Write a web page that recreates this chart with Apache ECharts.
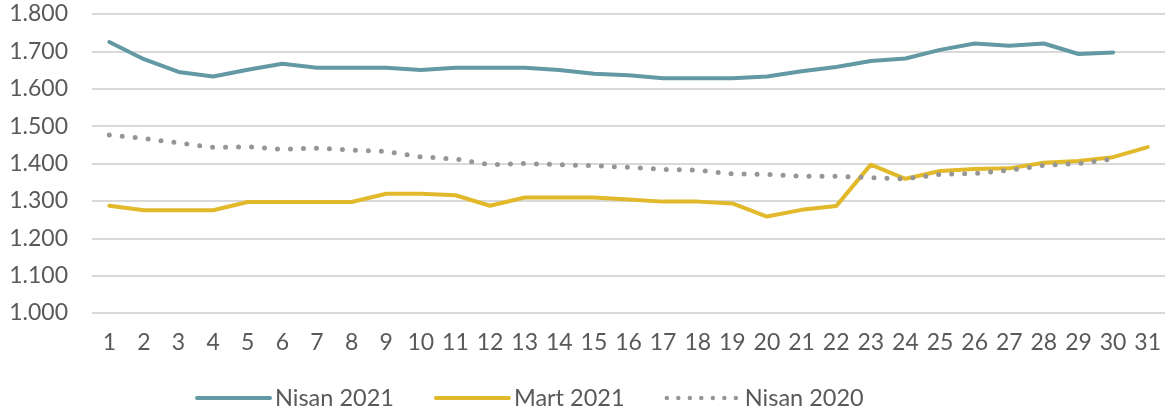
<!DOCTYPE html>
<html>
<head>
<meta charset="utf-8">
<script src="https://cdn.jsdelivr.net/npm/echarts@6/dist/echarts.min.js"></script>
<style>
    html, body { margin: 0; padding: 0; background: #fff; }
    #chart { width: 1175px; height: 414px; }
</style>
</head>
<body>
<div id="chart"></div>
<script>
const days = ['1','2','3','4','5','6','7','8','9','10','11','12','13','14','15','16','17','18','19','20','21','22','23','24','25','26','27','28','29','30','31'];
const nisan2021 = [1725, 1679, 1645, 1633, 1651, 1667, 1656, 1656, 1656, 1650, 1656, 1656, 1656, 1650, 1640,
    1636, 1628, 1628, 1628, 1633, 1647, 1658, 1674, 1681, 1704, 1721, 1715, 1721, 1693, 1697];
const mart2021 = [1287, 1275, 1275, 1275, 1297, 1297, 1297, 1297, 1319, 1319, 1315, 1287, 1309, 1309, 1309,
    1304, 1298, 1298, 1293, 1258, 1276, 1286, 1397, 1359, 1380, 1385, 1387, 1402, 1407, 1417, 1444];
const nisan2020 = [1476, 1467, 1455, 1443, 1445, 1438, 1441, 1436, 1432, 1418, 1412, 1397, 1400, 1397, 1394,
    1390, 1384, 1382, 1372, 1371, 1366, 1366, 1362, 1359, 1371, 1373, 1382, 1395, 1400, 1412];

const textColor = '#595959';
const font = 'Lato, "Noto Sans", sans-serif';

const myChart = echarts.init(document.getElementById('chart'));
myChart.setOption({
    animation: false,
    grid: { left: 92, right: 10, top: 14, bottom: 101 },
    xAxis: {
        type: 'category',
        data: days,
        boundaryGap: true,
        axisLine: { show: false },
        axisTick: { show: false },
        axisLabel: { color: textColor, fontSize: 23, fontFamily: font, margin: 18, interval: 0 }
    },
    yAxis: {
        type: 'value',
        min: 1000,
        max: 1800,
        interval: 100,
        axisLabel: {
            color: textColor, fontSize: 23, fontFamily: font, margin: 24,
            formatter: function (v) { return (v / 1000).toFixed(3); }
        },
        splitLine: { lineStyle: { color: '#d9d9d9', width: 2 } }
    },
    legend: {
        left: 190,
        top: 381,
        itemWidth: 73,
        itemHeight: 12,
        itemGap: 40,
        itemStyle: { opacity: 0 },
        lineStyle: { width: 4 },
        textStyle: { color: textColor, fontSize: 23.5, fontFamily: font },
        data: [
            { name: 'Nisan 2021' },
            { name: 'Mart 2021' },
            { name: 'Nisan 2020', lineStyle: { width: 4.5, type: [0, 11.5] } }
        ]
    },
    series: [
        {
            name: 'Nisan 2021',
            type: 'line',
            data: nisan2021,
            symbol: 'none',
            color: '#6399a4',
            lineStyle: { width: 4, color: '#6399a4', cap: 'round' }
        },
        {
            name: 'Mart 2021',
            type: 'line',
            data: mart2021,
            symbol: 'none',
            color: '#e1b92b',
            lineStyle: { width: 4, color: '#e1b92b', cap: 'round' }
        },
        {
            name: 'Nisan 2020',
            type: 'line',
            data: nisan2020,
            symbol: 'none',
            color: '#969696',
            lineStyle: { width: 5, color: '#969696', type: [0, 13], cap: 'round' }
        }
    ]
});
</script>
</body>
</html>
